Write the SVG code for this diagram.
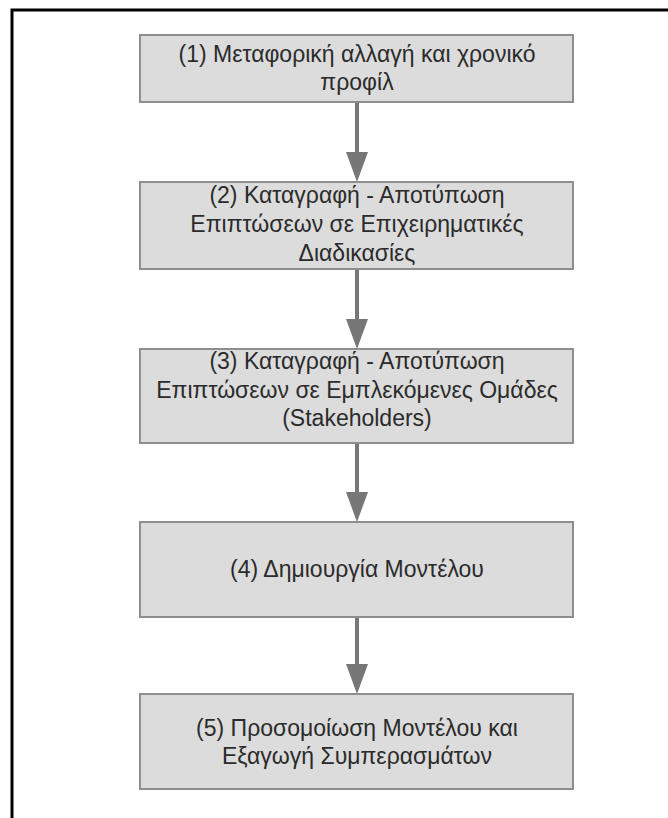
<svg xmlns="http://www.w3.org/2000/svg" width="668" height="818" viewBox="0 0 668 818">
  <style>
    .box { fill: #dcdcdc; stroke: #8e8e8e; stroke-width: 2; }
    .lbl { font-family: "Liberation Sans", Arial, sans-serif; font-size: 23px; fill: #2b2b2b; text-anchor: middle; }
    .flow { stroke: #777777; stroke-width: 4; fill: none; marker-end: url(#head); }
  </style>
  <defs>
    <marker id="head" markerUnits="userSpaceOnUse" markerWidth="30" markerHeight="22" refX="0" refY="11" orient="auto">
      <path d="M0,0 L30,11 L0,22 z" fill="#777777"/>
    </marker>
  </defs>

  <rect width="668" height="818" fill="#ffffff"/>
  <!-- page frame -->
  <rect x="12" y="10" width="720" height="900" fill="none" stroke="#000000" stroke-width="3"/>

  <g id="connectors">
    <line class="flow" x1="357" y1="103" x2="357" y2="152"/>
    <line class="flow" x1="357" y1="270" x2="357" y2="319"/>
    <line class="flow" x1="357" y1="444" x2="357" y2="492"/>
    <line class="flow" x1="357" y1="618" x2="357" y2="664"/>
  </g>

  <g id="step1">
    <rect class="box" x="140" y="35" width="433" height="67"/>
    <text class="lbl" x="357" y="62">(1) Μεταφορική αλλαγή και χρονικό</text>
    <text class="lbl" x="357" y="90">προφίλ</text>
  </g>

  <g id="step2">
    <rect class="box" x="140" y="182" width="433" height="87"/>
    <text class="lbl" x="357" y="203">(2) Καταγραφή - Αποτύπωση</text>
    <text class="lbl" x="357" y="232">Επιπτώσεων σε Επιχειρηματικές</text>
    <text class="lbl" x="357" y="261">Διαδικασίες</text>
  </g>

  <g id="step3">
    <rect class="box" x="140" y="349" width="433" height="94"/>
    <text class="lbl" x="357" y="369">(3) Καταγραφή - Αποτύπωση</text>
    <text class="lbl" x="357" y="398">Επιπτώσεων σε Εμπλεκόμενες Ομάδες</text>
    <text class="lbl" x="357" y="426">(Stakeholders)</text>
  </g>

  <g id="step4">
    <rect class="box" x="140" y="522" width="433" height="95"/>
    <text class="lbl" x="357" y="577">(4) Δημιουργία Μοντέλου</text>
  </g>

  <g id="step5">
    <rect class="box" x="140" y="694" width="433" height="95"/>
    <text class="lbl" x="357" y="736">(5) Προσομοίωση Μοντέλου και</text>
    <text class="lbl" x="357" y="764">Εξαγωγή Συμπερασμάτων</text>
  </g>
</svg>
